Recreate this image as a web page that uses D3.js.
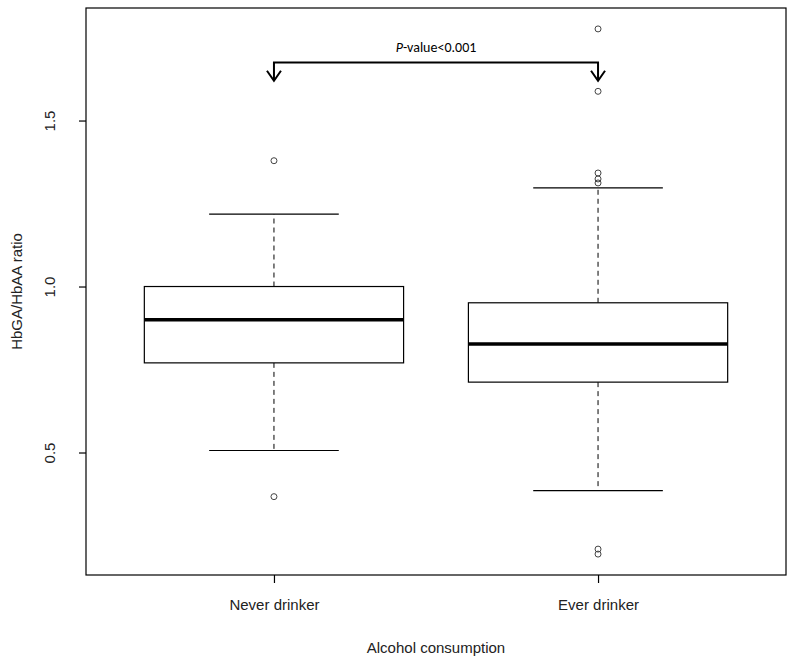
<!DOCTYPE html>
<html>
<head>
<meta charset="utf-8">
<script src="https://cdn.jsdelivr.net/npm/d3@7"></script>
<style>
  body { margin: 0; background: #fff; }
  text { font-family: "Liberation Sans", Arial, sans-serif; }
</style>
</head>
<body>
<div id="chart"></div>
<script>
// box statistics
var groups = ["Never drinker", "Ever drinker"];
var whiskerLow = [0.506, 0.385];
var q1 = [0.770, 0.712];
var median = [0.900, 0.827];
var q3 = [1.000, 0.951];
var whiskerHigh = [1.218, 1.297];
var outliers = [
  [1.379, 0.367],
  [1.776, 1.588, 1.342, 1.324, 1.312, 0.209, 0.194]
];
var yTicks = [0.5, 1.0, 1.5];

var data = groups.map(function(g, i) {
  return { group: g, lo: whiskerLow[i], q1: q1[i], med: median[i],
           q3: q3[i], hi: whiskerHigh[i], out: outliers[i] };
});

/* set the dimensions and margins of the graph */
var W = 800, H = 664;
var margin = { top: 8, right: 14, bottom: 89, left: 86 },
    width = W - margin.left - margin.right,
    height = H - margin.top - margin.bottom;

var svg = d3.select("#chart")
  .append("svg")
    .attr("width", W)
    .attr("height", H)
  .append("g")
    .attr("transform", "translate(" + margin.left + "," + margin.top + ")");

// R style: positions 1..n, range 0.5..n+0.5 plus 4% padding
var x = d3.scaleLinear().domain([0.42, 2.58]).range([0, width]);
var y = d3.scaleLinear().domain([0.131, 1.839]).range([height, 0]);
var halfBox = x(1.4) - x(1);
var halfCap = halfBox / 2;

// frame
svg.append("rect")
  .attr("width", width).attr("height", height)
  .attr("fill", "none").attr("stroke", "#000").attr("stroke-width", 1.2);

// Y axis, labels turned like R's las=0
var yAxis = svg.append("g")
  .call(d3.axisLeft(y).tickValues(yTicks).tickFormat(d3.format(".1f")).tickSize(7).tickSizeOuter(0));
yAxis.select(".domain").remove();
yAxis.selectAll("line").attr("stroke", "#000").attr("stroke-width", 1.2);
yAxis.selectAll("text")
  .attr("x", 0).attr("y", 0).attr("dy", null)
  .attr("transform", "translate(-31,0) rotate(-90)")
  .attr("text-anchor", "middle")
  .attr("font-size", 15).attr("fill", "#222");

// X axis
var xAxis = svg.append("g")
  .attr("transform", "translate(0," + height + ")")
  .call(d3.axisBottom(x).tickValues([1, 2])
        .tickFormat(function(d) { return groups[d - 1]; }).tickSize(8).tickSizeOuter(0));
xAxis.select(".domain").remove();
xAxis.selectAll("line").attr("stroke", "#000").attr("stroke-width", 1.2);
xAxis.selectAll("text")
  .attr("y", 24).attr("dy", "0.71em")
  .attr("font-size", 15).attr("fill", "#222");

// axis titles
svg.append("text")
  .attr("transform", "translate(-64," + (height / 2) + ") rotate(-90)")
  .attr("text-anchor", "middle")
  .attr("font-size", 15).attr("fill", "#222")
  .text("HbGA/HbAA ratio");
svg.append("text")
  .attr("x", width / 2).attr("y", height + 78)
  .attr("text-anchor", "middle")
  .attr("font-size", 15).attr("fill", "#222")
  .text("Alcohol consumption");

// boxes
var box = svg.selectAll("g.box")
  .data(data)
  .enter()
  .append("g").attr("class", "box");

box.append("line") // upper whisker
  .attr("x1", function(d, i) { return x(i + 1); })
  .attr("x2", function(d, i) { return x(i + 1); })
  .attr("y1", function(d) { return y(d.q3); })
  .attr("y2", function(d) { return y(d.hi); })
  .attr("stroke", "#000").attr("stroke-dasharray", "5,4");
box.append("line") // lower whisker
  .attr("x1", function(d, i) { return x(i + 1); })
  .attr("x2", function(d, i) { return x(i + 1); })
  .attr("y1", function(d) { return y(d.q1); })
  .attr("y2", function(d) { return y(d.lo); })
  .attr("stroke", "#000").attr("stroke-dasharray", "5,4");
["hi", "lo"].forEach(function(k) {
  box.append("line")
    .attr("x1", function(d, i) { return x(i + 1) - halfCap; })
    .attr("x2", function(d, i) { return x(i + 1) + halfCap; })
    .attr("y1", function(d) { return y(d[k]); })
    .attr("y2", function(d) { return y(d[k]); })
    .attr("stroke", "#000").attr("stroke-width", 1.2);
});
box.append("rect")
  .attr("x", function(d, i) { return x(i + 1) - halfBox; })
  .attr("width", 2 * halfBox)
  .attr("y", function(d) { return y(d.q3); })
  .attr("height", function(d) { return y(d.q1) - y(d.q3); })
  .attr("fill", "#fff").attr("stroke", "#000").attr("stroke-width", 1.2);
box.append("line") // median
  .attr("x1", function(d, i) { return x(i + 1) - halfBox; })
  .attr("x2", function(d, i) { return x(i + 1) + halfBox; })
  .attr("y1", function(d) { return y(d.med); })
  .attr("y2", function(d) { return y(d.med); })
  .attr("stroke", "#000").attr("stroke-width", 3.5);

// outliers
box.each(function(d, i) {
  d3.select(this).selectAll("circle")
    .data(d.out)
    .enter()
    .append("circle")
      .attr("cx", x(i + 1))
      .attr("cy", function(v) { return y(v); })
      .attr("r", 3)
      .attr("fill", "none").attr("stroke", "#444").attr("stroke-width", 1);
});

// significance bracket
var bracketY = 1.675, tipY = 1.62;
var ann = svg.append("g").attr("fill", "none").attr("stroke", "#000").attr("stroke-width", 2);
ann.append("path")
  .attr("d", "M" + x(1) + "," + y(tipY) + "V" + y(bracketY) + "H" + x(2) + "V" + y(tipY));
[1, 2].forEach(function(p) {
  ann.append("path")
    .attr("d", "M" + (x(p) - 7) + "," + (y(tipY) - 10) + "L" + x(p) + "," + y(tipY) +
               "L" + (x(p) + 7) + "," + (y(tipY) - 10));
});
var lab = svg.append("text")
  .attr("x", (x(1) + x(2)) / 2).attr("y", y(bracketY) - 10)
  .attr("text-anchor", "middle")
  .attr("font-size", 14).attr("fill", "#000")
  .style("font-family", "Carlito, 'Open Sans', sans-serif");
lab.append("tspan").attr("font-style", "italic").text("P");
lab.append("tspan").text("-value<0.001");
</script>
</body>
</html>
